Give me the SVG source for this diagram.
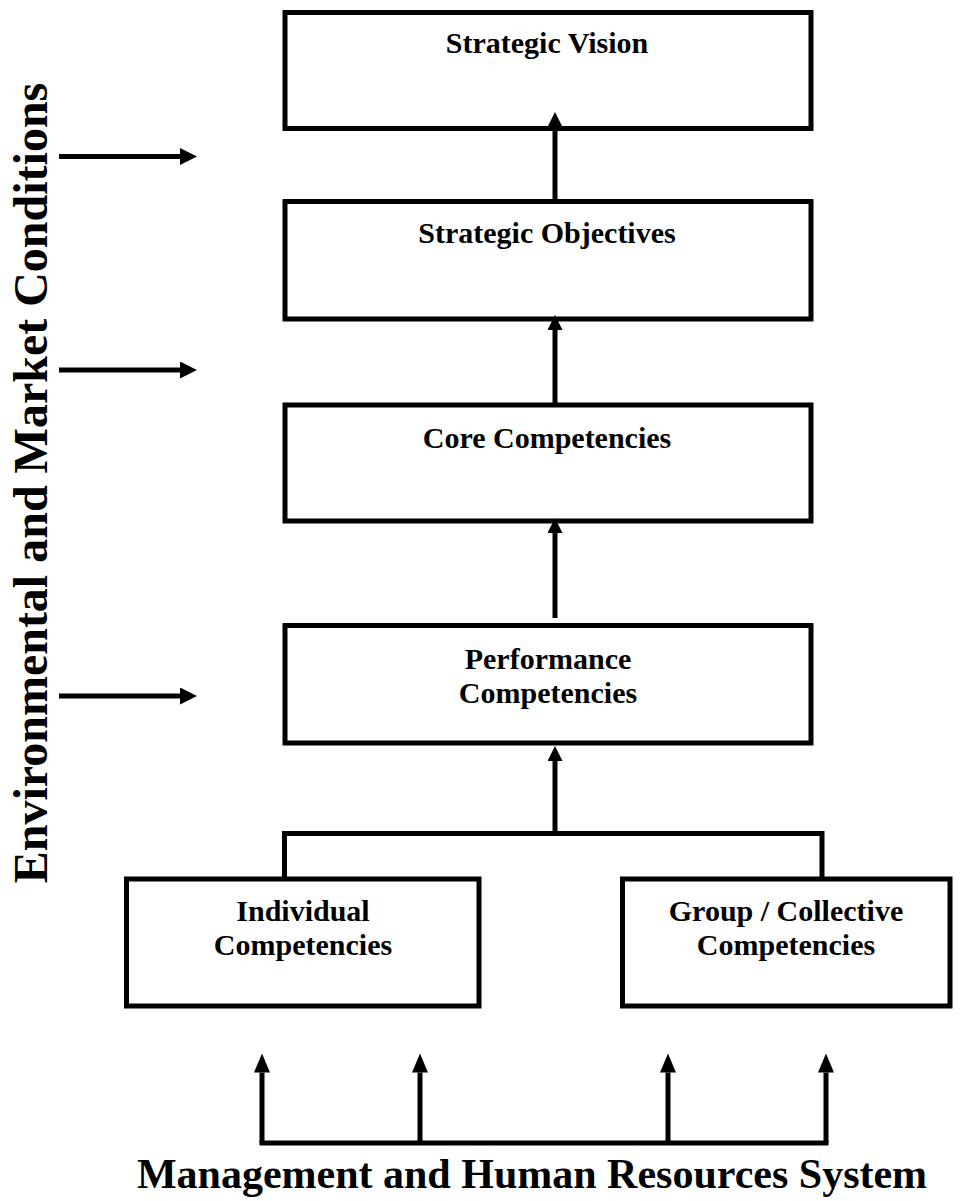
<svg xmlns="http://www.w3.org/2000/svg" width="963" height="1201" viewBox="0 0 963 1201">
  <style>
    .box { fill: #ffffff; stroke: #000000; stroke-width: 5; }
    .wire { fill: none; stroke: #000000; stroke-width: 5; }
    .label { font-family: "Liberation Serif", "Times New Roman", serif; font-weight: bold; font-size: 30px; fill: #000000; text-anchor: middle; }
    .big { font-family: "Liberation Serif", "Times New Roman", serif; font-weight: bold; font-size: 42px; fill: #000000; text-anchor: middle; }
    .side { font-family: "Liberation Serif", "Times New Roman", serif; font-weight: bold; font-size: 48px; fill: #000000; text-anchor: middle; }
  </style>
  <defs>
    <!-- arrowheads: reference point at the base so the shaft stops under the head -->
    <marker id="head" viewBox="0 0 15 15" refX="0" refY="7.5" markerWidth="15" markerHeight="15" markerUnits="userSpaceOnUse" orient="auto">
      <path d="M0,0 L15,7.5 L0,15 Z" fill="#000000"/>
    </marker>
    <marker id="headSide" viewBox="0 0 17 17" refX="0" refY="8.5" markerWidth="17" markerHeight="17" markerUnits="userSpaceOnUse" orient="auto">
      <path d="M0,0 L17,8.5 L0,17 Z" fill="#000000"/>
    </marker>
    <marker id="headBase" viewBox="0 0 19 16" refX="0" refY="8" markerWidth="19" markerHeight="16" markerUnits="userSpaceOnUse" orient="auto">
      <path d="M0,0 L19,8 L0,16 Z" fill="#000000"/>
    </marker>
  </defs>

  <!-- side label, read bottom to top -->
  <g id="environment">
    <text class="side" transform="translate(47,483) rotate(-90)">Environmental and Market Conditions</text>
  </g>

  <g id="strategic-vision">
    <rect class="box" x="285" y="12.5" width="526" height="116"/>
    <text class="label" x="547" y="53">Strategic Vision</text>
  </g>

  <g id="strategic-objectives">
    <rect class="box" x="285" y="201.5" width="526" height="117.5"/>
    <text class="label" x="547" y="243">Strategic Objectives</text>
  </g>

  <g id="core-competencies">
    <rect class="box" x="285" y="405" width="526" height="116"/>
    <text class="label" x="547" y="448">Core Competencies</text>
  </g>

  <g id="performance-competencies">
    <rect class="box" x="285" y="625.5" width="526" height="117.5"/>
    <text class="label" x="548" y="669">Performance</text>
    <text class="label" x="548" y="703">Competencies</text>
  </g>

  <g id="individual-competencies">
    <rect class="box" x="126.5" y="879" width="352.5" height="127"/>
    <text class="label" x="303" y="921">Individual</text>
    <text class="label" x="303" y="955">Competencies</text>
  </g>

  <g id="group-competencies">
    <rect class="box" x="622.5" y="879" width="327.5" height="127"/>
    <text class="label" x="786" y="921">Group / Collective</text>
    <text class="label" x="786" y="955">Competencies</text>
  </g>

  <g id="management-hr">
    <text class="big" x="532" y="1188">Management and Human Resources System</text>
  </g>

  <g id="connectors">
    <!-- environment inputs -->
    <line class="wire" x1="59" y1="156.5" x2="180" y2="156.5" marker-end="url(#headSide)"/>
    <line class="wire" x1="59" y1="370" x2="180" y2="370" marker-end="url(#headSide)"/>
    <line class="wire" x1="59" y1="696" x2="180" y2="696" marker-end="url(#headSide)"/>

    <!-- upward chain -->
    <line class="wire" x1="555" y1="201.5" x2="555" y2="127" marker-end="url(#head)"/>
    <line class="wire" x1="555" y1="405" x2="555" y2="330" marker-end="url(#head)"/>
    <line class="wire" x1="555" y1="618" x2="555" y2="533" marker-end="url(#head)"/>
    <line class="wire" x1="555" y1="833.5" x2="555" y2="761" marker-end="url(#head)"/>

    <!-- join of the two lower boxes -->
    <path class="wire" d="M284.5,879 V833.5 H822 V879"/>

    <!-- management and HR system feeds -->
    <path class="wire" d="M262,1143 H826" stroke-linecap="square"/>
    <line class="wire" x1="262" y1="1143" x2="262" y2="1072.5" marker-end="url(#headBase)"/>
    <line class="wire" x1="420" y1="1143" x2="420" y2="1072.5" marker-end="url(#headBase)"/>
    <line class="wire" x1="668" y1="1143" x2="668" y2="1072.5" marker-end="url(#headBase)"/>
    <line class="wire" x1="826" y1="1143" x2="826" y2="1072.5" marker-end="url(#headBase)"/>
  </g>
</svg>
